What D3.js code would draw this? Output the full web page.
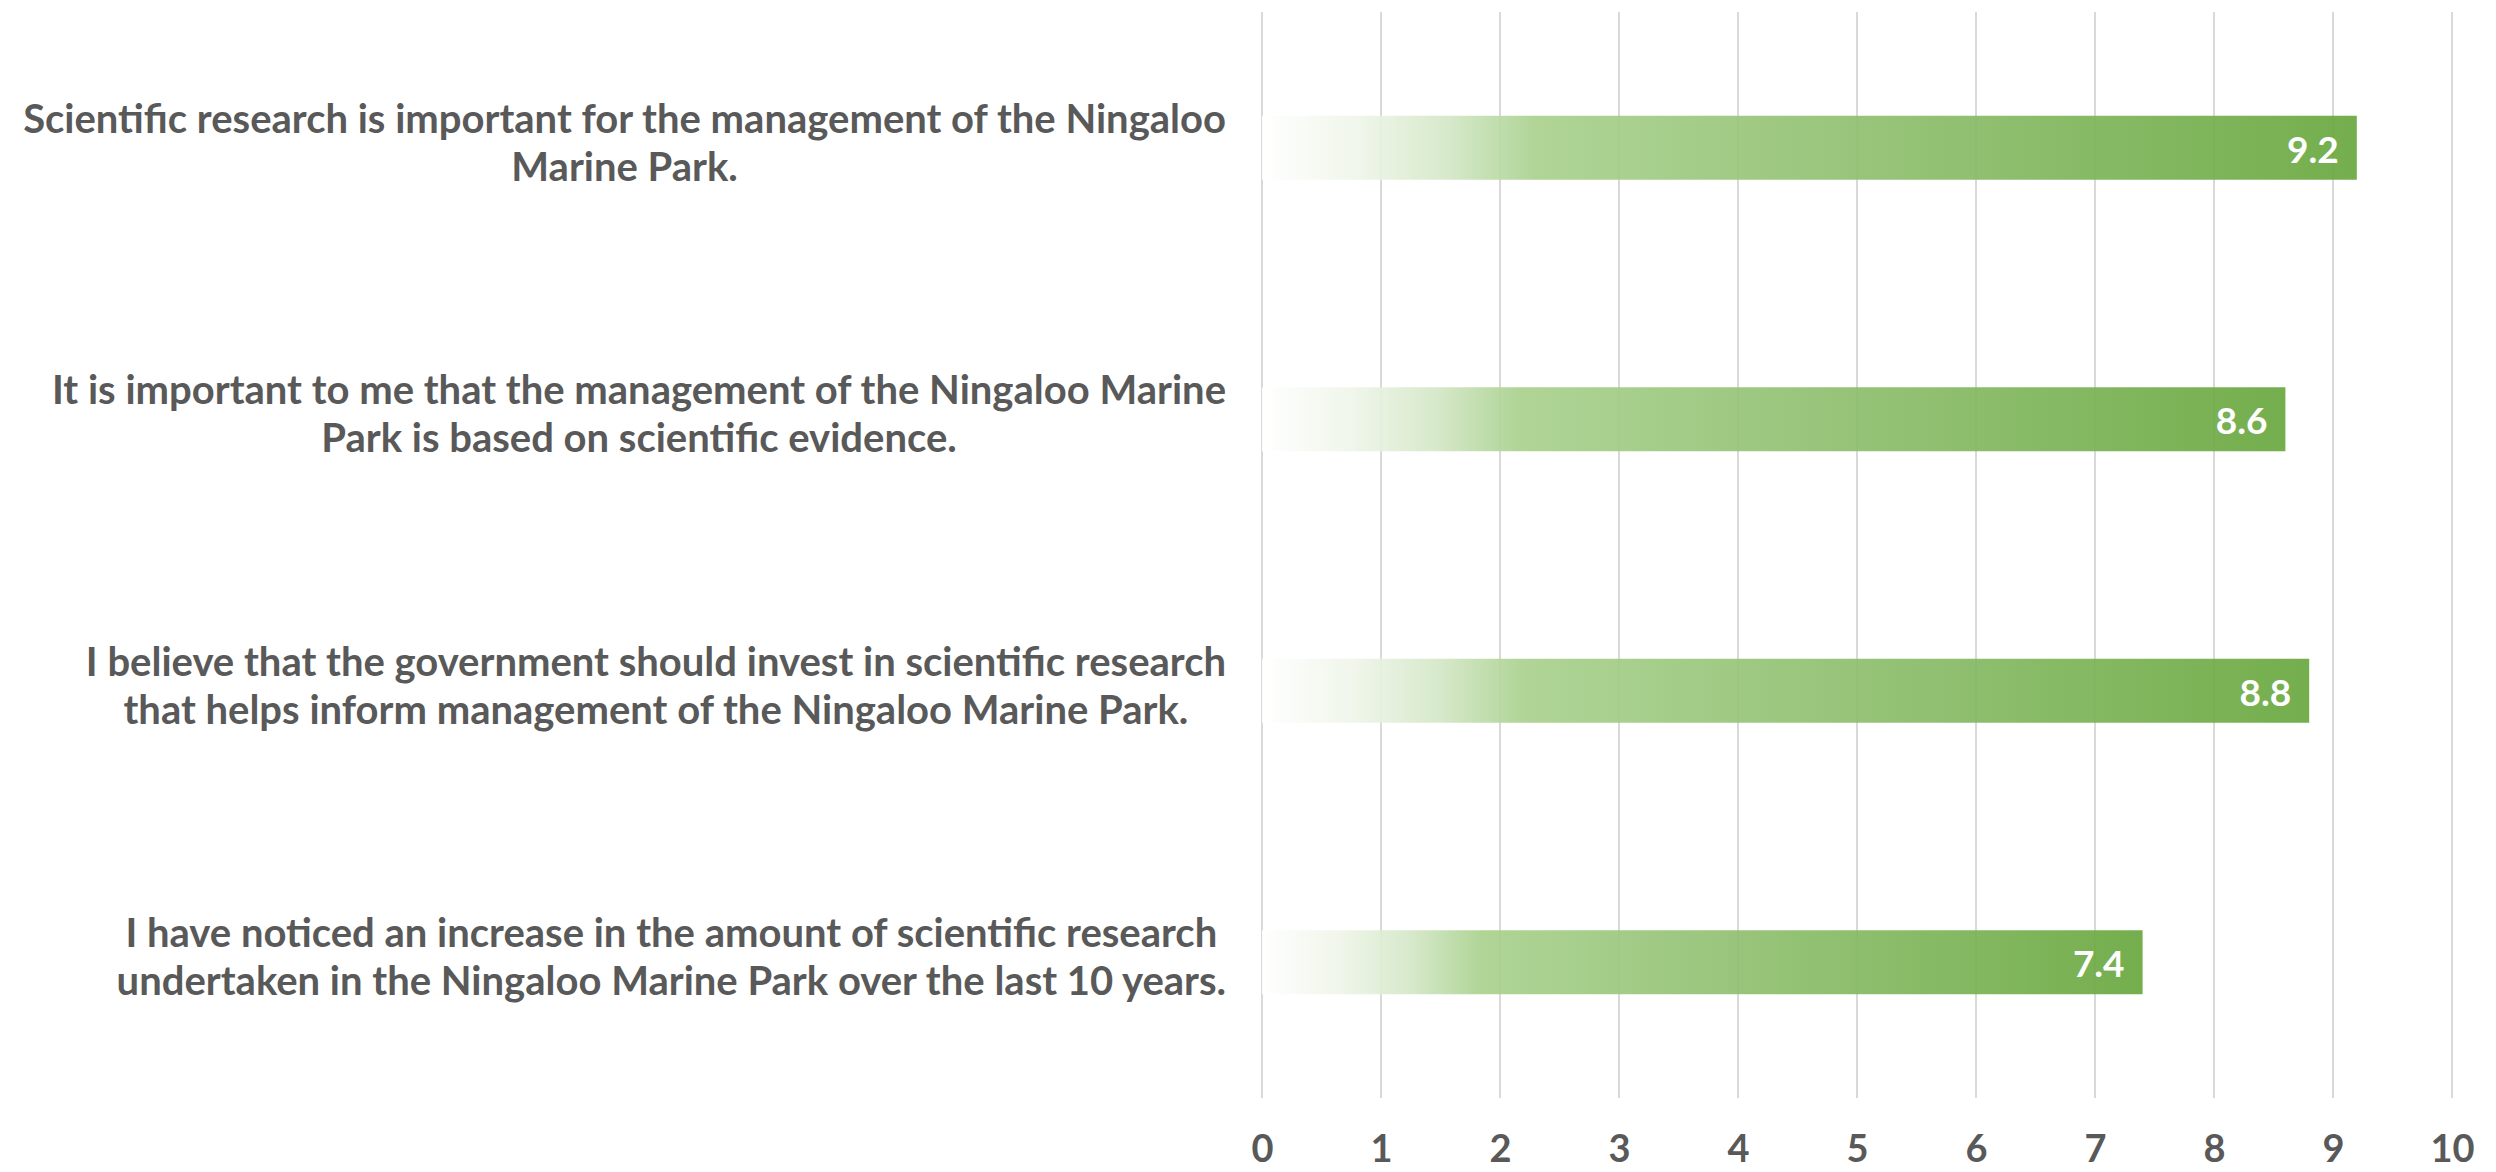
<!DOCTYPE html>
<html>
<head>
<meta charset="utf-8">
<script src="https://cdn.jsdelivr.net/npm/d3@7"></script>
<style>
  html, body { margin: 0; padding: 0; background: #ffffff; }
  svg { display: block; }
  text { font-family: Lato, "Open Sans", sans-serif; font-weight: 700; }
</style>
</head>
<body>
<script>
// Survey statements (each split into its two display lines) and mean scores
const statements = [
  ["Scientific research is important for the management of the Ningaloo", "Marine Park."],
  ["It is important to me that the management of the Ningaloo Marine", "Park is based on scientific evidence."],
  ["I believe that the government should invest in scientific research", "that helps inform management of the Ningaloo Marine Park."],
  ["I have noticed an increase in the amount of scientific research", "undertaken in the Ningaloo Marine Park over the last 10 years."]
];
const scores = [9.2, 8.6, 8.8, 7.4];
const tickValues = [0, 1, 2, 3, 4, 5, 6, 7, 8, 9, 10];

const W = 2496, H = 1172;
const plot = { left: 1262, right: 2452, top: 12, bottom: 1098 };
const labelRight = 1226;
const textColor = "#595959";

const svg = d3.select("body").append("svg").attr("width", W).attr("height", H);

const ids = statements.map((d, i) => "s" + i);
const x = d3.scaleLinear().domain([0, 10]).range([plot.left, plot.right]);
const y = d3.scaleBand().domain(ids).range([plot.top, plot.bottom])
  .paddingInner(0.7643).paddingOuter(0.38215);

// Horizontal fade along each bar, from white to green
const grad = svg.append("defs").append("linearGradient")
  .attr("id", "barFade").attr("x1", "0%").attr("x2", "100%").attr("y1", "0%").attr("y2", "0%");
[
  [0, "#ffffff"], [0.09, "#eef5e8"], [0.17, "#d3e7c6"], [0.25, "#a9d18e"],
  [0.5, "#93c274"], [1, "#68a73e"]
].forEach(([o, c]) => grad.append("stop").attr("offset", o).attr("stop-color", c));

// Vertical gridlines
svg.append("g").selectAll("line").data(tickValues).join("line")
  .attr("x1", d => x(d)).attr("x2", d => x(d))
  .attr("y1", plot.top).attr("y2", plot.bottom)
  .attr("stroke", "#d9d9d9").attr("stroke-width", 2);

// Bars
svg.append("g").selectAll("rect").data(scores).join("rect")
  .attr("x", x(0))
  .attr("y", (d, i) => y(ids[i]))
  .attr("width", d => x(d) - x(0))
  .attr("height", y.bandwidth())
  .attr("fill", "url(#barFade)")
  .attr("fill-opacity", 0.92);

// Value labels inside the bar ends
svg.append("g").selectAll("text").data(scores).join("text")
  .attr("x", d => x(d) - 18)
  .attr("y", (d, i) => y(ids[i]) + y.bandwidth() / 2)
  .attr("dy", "0.4em")
  .attr("text-anchor", "end")
  .attr("fill", "#ffffff")
  .attr("font-size", 37)
  .text(d => d.toFixed(1));

// Value axis along the bottom
const axis = svg.append("g")
  .attr("transform", `translate(0,${plot.bottom})`)
  .call(d3.axisBottom(x).tickValues(tickValues).tickSize(0).tickFormat(d3.format("d")));
axis.select(".domain").remove();
axis.selectAll("text")
  .attr("fill", textColor)
  .attr("font-size", 38)
  .attr("font-family", "Lato, 'Open Sans', sans-serif")
  .attr("font-weight", 700)
  .attr("y", 64)
  .attr("dy", 0);

// Category labels: two centred lines, block aligned to the right edge
const lineH = 48;
const labels = svg.append("g");
statements.forEach((lines, i) => {
  const cy = y(ids[i]) + y.bandwidth() / 2;
  const g = labels.append("g");
  const ts = lines.map((s, k) => g.append("text")
    .attr("fill", textColor)
    .attr("font-size", 40)
    .attr("text-anchor", "middle")
    .attr("y", cy + (k - (lines.length - 1) / 2) * lineH)
    .attr("dy", "0.22em")
    .text(s));
  const maxW = d3.max(ts, t => t.node().getComputedTextLength());
  ts.forEach(t => t.attr("x", labelRight - maxW / 2));
});
</script>
</body>
</html>
